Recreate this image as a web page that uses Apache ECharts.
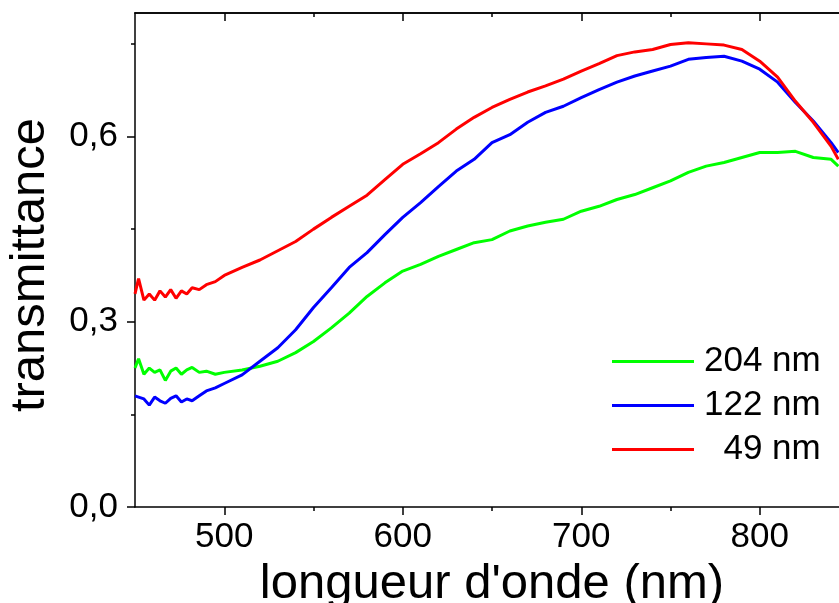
<!DOCTYPE html>
<html>
<head>
<meta charset="utf-8">
<script src="https://cdn.jsdelivr.net/npm/echarts@6/dist/echarts.min.js"></script>
<style>
  html, body { margin: 0; padding: 0; background: #fff; }
  #chart { width: 839px; height: 603px; }
</style>
</head>
<body>
<div id="chart"></div>
<script>
// wavelengths (nm)
var wavelength = [450, 452, 455, 458, 461, 464, 467, 470, 473, 476, 479, 482, 486, 490, 495,
  500, 510, 520, 530, 540, 550, 560, 570, 580, 590, 600, 610, 620, 630, 640, 650, 660, 670,
  680, 690, 700, 710, 720, 730, 740, 750, 760, 770, 780, 790, 800, 810, 820, 830, 840, 844];

var t204 = [0.225, 0.24, 0.215, 0.225, 0.218, 0.222, 0.205, 0.22, 0.225, 0.215, 0.222, 0.226, 0.218, 0.22, 0.215,
  0.218, 0.222, 0.228, 0.236, 0.25, 0.268, 0.29, 0.314, 0.341, 0.363, 0.382, 0.393, 0.406, 0.417, 0.428, 0.433, 0.447, 0.455,
  0.461, 0.466, 0.479, 0.487, 0.498, 0.506, 0.517, 0.528, 0.542, 0.552, 0.558, 0.566, 0.574, 0.574, 0.576, 0.566, 0.563, 0.552];

var t122 = [0.18, 0.178, 0.175, 0.165, 0.178, 0.172, 0.168, 0.176, 0.18, 0.17, 0.175, 0.172, 0.18, 0.188, 0.193,
  0.2, 0.214, 0.236, 0.258, 0.287, 0.323, 0.355, 0.388, 0.412, 0.441, 0.469, 0.493, 0.519, 0.544, 0.563, 0.59, 0.603, 0.623,
  0.639, 0.649, 0.663, 0.676, 0.688, 0.698, 0.706, 0.714, 0.725, 0.728, 0.73, 0.722, 0.709, 0.688, 0.655, 0.625, 0.59, 0.574];

var t49 = [0.345, 0.37, 0.335, 0.345, 0.335, 0.35, 0.34, 0.352, 0.338, 0.35, 0.345, 0.355, 0.352, 0.36, 0.365,
  0.375, 0.388, 0.4, 0.415, 0.43, 0.45, 0.469, 0.487, 0.505, 0.53, 0.555, 0.572, 0.59, 0.612, 0.631, 0.647, 0.66, 0.672,
  0.682, 0.693, 0.706, 0.718, 0.731, 0.737, 0.741, 0.749, 0.752, 0.75, 0.748, 0.741, 0.722, 0.696, 0.657, 0.623, 0.584, 0.563];

var names = ['204 nm', '122 nm', '  49 nm'];
var colors = ['#00ff00', '#0000ff', '#ff0000'];
var xMajor = [500, 600, 700, 800];
var xMinor = [550, 650, 750];
var yMajor = [0, 0.3, 0.6];
var yMinor = [0.15, 0.45, 0.75];

var font = "'Liberation Sans', Arial, sans-serif";
var myChart = echarts.init(document.getElementById('chart'));

function pairs(ys) {
  return wavelength.map(function (x, i) { return [x, ys[i]]; });
}

function xAx(pos, vals, len, inside, labels) {
  return {
    type: 'value', position: pos, min: 450, max: 850, gridIndex: 0,
    axisLine: { show: labels !== undefined || pos === 'top', lineStyle: { color: '#000', width: 1.5 } },
    axisTick: { show: true, customValues: vals, length: len, inside: inside, lineStyle: { color: '#000', width: 1.5 } },
    axisLabel: labels || { show: false },
    splitLine: { show: false }
  };
}

var option = {
  animation: false,
  backgroundColor: '#fff',
  grid: { left: 135, top: 13, width: 714, height: 494, containLabel: false, outerBoundsMode: 'none' },
  legend: {
    orient: 'vertical', left: 612, top: 344, padding: 0,
    itemWidth: 82, itemHeight: 3, itemGap: 9, icon: 'rect',
    textStyle: { fontSize: 35, lineHeight: 35, fontFamily: font, color: '#000', padding: [0, 0, 0, 5] },
    data: names
  },
  xAxis: [
    Object.assign(xAx('bottom', xMajor, 8, false, {
      show: true, customValues: xMajor, fontSize: 35, fontFamily: font, color: '#000', margin: 13
    }), {
      name: "longueur d'onde (nm)", nameLocation: 'middle', nameGap: 51,
      nameTextStyle: { fontSize: 49, fontFamily: font, color: '#000' }
    }),
    xAx('bottom', xMinor, 4, false),
    xAx('top', xMajor, 8, true),
    xAx('top', xMinor, 4, true)
  ],
  yAxis: [
    {
      type: 'value', min: 0, max: 0.8, position: 'left',
      name: 'transmittance', nameLocation: 'middle', nameGap: 80,
      nameTextStyle: { fontSize: 49, fontFamily: font, color: '#000', padding: [0, 10, 0, 0] },
      axisLine: { show: true, lineStyle: { color: '#000', width: 1.5 } },
      axisTick: { show: true, customValues: yMajor, length: 8, lineStyle: { color: '#000', width: 1.5 } },
      axisLabel: {
        customValues: yMajor, fontSize: 35, fontFamily: font, color: '#000', margin: 17,
        formatter: function (v) { return v.toFixed(1).replace('.', ','); }
      },
      splitLine: { show: false }
    },
    {
      type: 'value', min: 0, max: 0.8, position: 'left',
      axisLine: { show: false },
      axisTick: { show: true, customValues: yMinor, length: 4, lineStyle: { color: '#000', width: 1.5 } },
      axisLabel: { show: false },
      splitLine: { show: false }
    }
  ],
  series: [0, 1, 2].map(function (k) {
    return {
      name: names[k], type: 'line', xAxisIndex: 0, yAxisIndex: 0,
      data: pairs([t204, t122, t49][k]),
      showSymbol: false, symbol: 'none',
      lineStyle: { color: colors[k], width: 3 },
      itemStyle: { color: colors[k] }
    };
  })
};

myChart.setOption(option);
</script>
</body>
</html>
